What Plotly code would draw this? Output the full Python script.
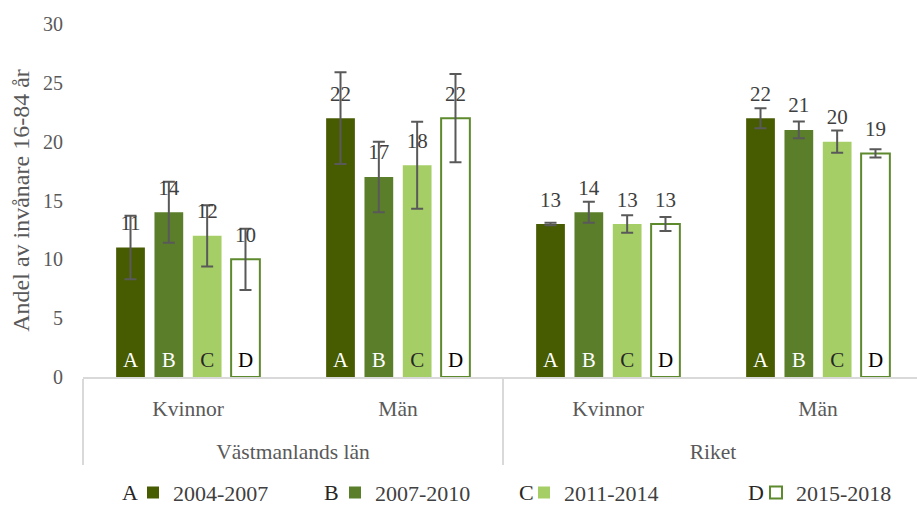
import plotly.graph_objects as go

regions = ["Västmanlands län", "Västmanlands län", "Riket", "Riket"]
sexes = ["Kvinnor", "Män", "Kvinnor", "Män"]

series_names = ["2004-2007", "2007-2010", "2011-2014", "2015-2018"]
series_letters = ["A", "B", "C", "D"]

vals_a = [11, 22, 13, 22]
vals_b = [14, 17, 14, 21]
vals_c = [12, 18, 13, 20]
vals_d = [10, 22, 13, 19]

err_a = [2.7, 3.9, 0.1, 0.85]
err_b = [2.6, 3.0, 0.9, 0.72]
err_c = [2.6, 3.7, 0.75, 0.95]
err_d = [2.6, 3.75, 0.6, 0.35]

y_ticks = [0, 5, 10, 15, 20, 25, 30]

values = [vals_a, vals_b, vals_c, vals_d]
errors = [err_a, err_b, err_c, err_d]

fills = ["#475B00", "#5B7E2B", "#A6CE66", "#FFFFFF"]
borders = ["#475B00", "#5B7E2B", "#A6CE66", "#5E8A2E"]
border_w = [0, 0, 0, 2]
letter_colors = ["#FFFFFF", "#FFFFFF", "#262626", "#000000"]

FONT = "Liberation Serif, Times New Roman, serif"
# outer labels get an empty first line so they sit lower, like the reference
x = [["<br>" + r for r in regions], sexes]

fig = go.Figure()
legend_ids = ["legend", "legend2", "legend3", "legend4"]
for i in range(4):
    fig.add_trace(go.Bar(
        x=x, y=values[i], name=series_names[i],
        offsetgroup=series_letters[i], legend=legend_ids[i],
        marker=dict(color=fills[i], line=dict(color=borders[i], width=border_w[i])),
        error_y=dict(type="data", array=errors[i], color="#595959", thickness=2, width=6),
    ))
for i in range(4):
    # value labels
    fig.add_trace(go.Scatter(
        x=x, y=values[i], mode="markers+text", offsetgroup=series_letters[i],
        text=[str(v) for v in values[i]], textposition="top center",
        textfont=dict(family=FONT, size=21, color="#404040"),
        marker=dict(size=18, opacity=0), showlegend=False, hoverinfo="skip",
        cliponaxis=False,
    ))
    # letter labels inside bars
    fig.add_trace(go.Scatter(
        x=x, y=[0] * 4, mode="markers+text", offsetgroup=series_letters[i],
        text=[series_letters[i]] * 4, textposition="top center",
        textfont=dict(family=FONT, size=21, color=letter_colors[i]),
        marker=dict(size=6, opacity=0), showlegend=False, hoverinfo="skip",
        cliponaxis=False,
    ))

W, H = 917, 514
L, R, T, B = 83, 0, 24, 132
pw = W - L - R
leg_y = -0.328
legend_x_px = [133, 335, 524, 756]
letter_x_px = [130, 331, 526, 756]
legends = {}
for i, lid in enumerate(legend_ids):
    legends[lid] = dict(
        x=(legend_x_px[i] - L) / pw, xanchor="left", y=leg_y, yanchor="middle",
        orientation="h", font=dict(family=FONT, size=22, color="#404040"),
        bgcolor="rgba(0,0,0,0)", itemwidth=30,
    )

annotations = []
for i in range(4):
    annotations.append(dict(
        x=(letter_x_px[i] - L) / pw, y=leg_y, xref="paper", yref="paper",
        text=series_letters[i], showarrow=False, xanchor="center", yanchor="middle",
        font=dict(family=FONT, size=22, color="#262626"),
    ))

fig.update_layout(
    width=W, height=H,
    margin=dict(l=L, r=R, t=T, b=B),
    barmode="group", bargap=0.27, bargroupgap=0.25,
    scattermode="group", scattergap=0.27,
    paper_bgcolor="white", plot_bgcolor="white",
    font=dict(family=FONT, color="#595959"),
    annotations=annotations,
    **legends,
)
fig.update_xaxes(
    type="multicategory", range=[-0.5, -0.5 + pw / 210], automargin=False,
    showline=True, linecolor="#D9D9D9", linewidth=2,
    showdividers=True, dividercolor="#D9D9D9", dividerwidth=2,
    tickfont=dict(family=FONT, size=21.5, color="#595959"),
    ticklabelstandoff=11,
    showgrid=False, ticks="",
)
fig.update_yaxes(
    range=[0, 30], tickvals=y_ticks, showgrid=False, zeroline=False,
    automargin=False,
    tickfont=dict(family=FONT, size=20, color="#595959"),
    ticklabelstandoff=19,
    title=dict(text="Andel av invånare 16-84 år", standoff=6,
               font=dict(family=FONT, size=24, color="#595959")),
)

# remove the browser's default 8px body margin so the 917x514 figure fills the window
fig.write_html(
    "out.html",
    config={"displayModeBar": False},
    post_script="document.body.style.margin='0px';",
)
